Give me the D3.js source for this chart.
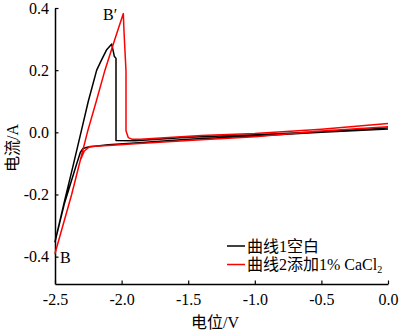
<!DOCTYPE html>
<html><head><meta charset="utf-8">
<script src="https://cdn.jsdelivr.net/npm/d3@7"></script>
<style>
html,body{margin:0;padding:0;background:#fff;}
svg text{font-family:"Liberation Serif","Noto Sans CJK SC",serif;}
</style></head>
<body><svg id="c" width="400" height="332"></svg>
<script>
const xTicks = [-2.5, -2.0, -1.5, -1.0, -0.5, 0.0];
const xTickLabels = ["-2.5", "-2.0", "-1.5", "-1.0", "-0.5", "0.0"];
const yTicks = [-0.4, -0.2, 0.0, 0.2, 0.4];
const yTickLabels = ["-0.4", "-0.2", "0.0", "0.2", "0.4"];
const seriesNames = ["曲线1空白", "曲线2添加1% CaCl"];
// curve 1 (black): potential (V), current (A)
const blankV = [0.0, -0.5, -1.0, -1.5, -1.9, -2.1, -2.25, -2.29, -2.31, -2.34, -2.43, -2.5,
  -2.43, -2.36, -2.305, -2.25, -2.187, -2.155, -2.112, -2.074, -2.055, -2.042, -2.042, -1.9, -1.5, -1.0, -0.5, 0.0];
const blankI = [0.011, 0.0, -0.012, -0.022, -0.034, -0.040, -0.047, -0.052, -0.065, -0.105, -0.23, -0.352,
  -0.224, -0.10, 0.0, 0.1, 0.2, 0.229, 0.266, 0.284, 0.245, 0.238, -0.026, -0.027, -0.016, -0.008, 0.002, 0.014];
// curve 2 (red)
const caV = [0.0, -0.5, -1.0, -1.5, -1.9, -2.1, -2.24, -2.28, -2.31, -2.375, -2.5,
  -2.375, -2.31, -2.257, -2.19, -2.125, -2.05, -1.987, -1.982, -1.967, -1.967, -1.95, -1.924, -1.86, -1.4, -1.0, -0.5, 0.0];
const caI = [0.018, 0.004, -0.014, -0.026, -0.037, -0.042, -0.046, -0.06, -0.09, -0.2, -0.39,
  -0.2, -0.09, 0.0, 0.1, 0.2, 0.3, 0.382, 0.325, 0.197, 0.005, -0.017, -0.022, -0.022, -0.010, -0.004, 0.010, 0.028];
const colors = ["#000000", "#ff0000"];

const svg = d3.select("#c");
const x = d3.scaleLinear().domain([-2.5, 0]).range([55, 388]);
const y = d3.scaleLinear().domain([-0.488, 0.4]).range([284, 8]);

const line = d3.line().x(d => x(d[0])).y(d => y(d[1]));
const series = [d3.zip(blankV, blankI), d3.zip(caV, caI)];

// axes
const xAxis = d3.axisBottom(x).tickValues(xTicks).tickSizeInner(-3.5).tickSizeOuter(0)
  .tickPadding(7).tickFormat((d, i) => xTickLabels[i]);
const gx = svg.append("g").attr("transform", `translate(0,${y(-0.488)})`).call(xAxis);
const yAxis = d3.axisLeft(y).tickValues(yTicks).tickSizeInner(-3.5).tickSizeOuter(0)
  .tickPadding(6).tickFormat((d, i) => yTickLabels[i]);
const gy = svg.append("g").attr("transform", `translate(${x(-2.5)},0)`).call(yAxis);
[gx, gy].forEach(g => {
  g.select(".domain").attr("stroke", "#000").attr("stroke-width", 1.5);
  g.selectAll(".tick line").attr("stroke", "#000").attr("stroke-width", 1.2);
  g.selectAll(".tick text").attr("fill", "#000").style("font-size", "16px")
    .style("font-family", "'Liberation Serif', serif");
});
gx.selectAll(".tick text").attr("dy", "0.85em");

// curves
series.forEach((s, i) => {
  svg.append("path").datum(s).attr("d", line).attr("fill", "none")
    .attr("stroke", colors[i]).attr("stroke-width", 1.5).attr("stroke-linejoin", "round");
});

// axis titles
svg.append("text").attr("x", 215).attr("y", 328).attr("text-anchor", "middle")
  .style("font-size", "16px").text("电位/V");
svg.append("text").attr("transform", "translate(18,148) rotate(-90)").attr("text-anchor", "middle")
  .style("font-size", "16px").text("电流/A");

// annotations
svg.append("text").attr("x", 103).attr("y", 20).style("font-size", "16px").text("B′");
svg.append("text").attr("x", 60).attr("y", 263).style("font-size", "16px").text("B");

// legend
const lg = svg.append("g");
seriesNames.forEach((n, i) => {
  const yy = 246 + i * 18.5;
  lg.append("line").attr("x1", 227).attr("x2", 245).attr("y1", yy).attr("y2", yy)
    .attr("stroke", colors[i]).attr("stroke-width", 1.5);
  const t = lg.append("text").attr("x", 247).attr("y", yy + 5.5).style("font-size", "16px").text(n);
  if (i === 1) t.append("tspan").attr("dy", 3).style("font-size", "10px").text("2");
});
</script></body></html>
